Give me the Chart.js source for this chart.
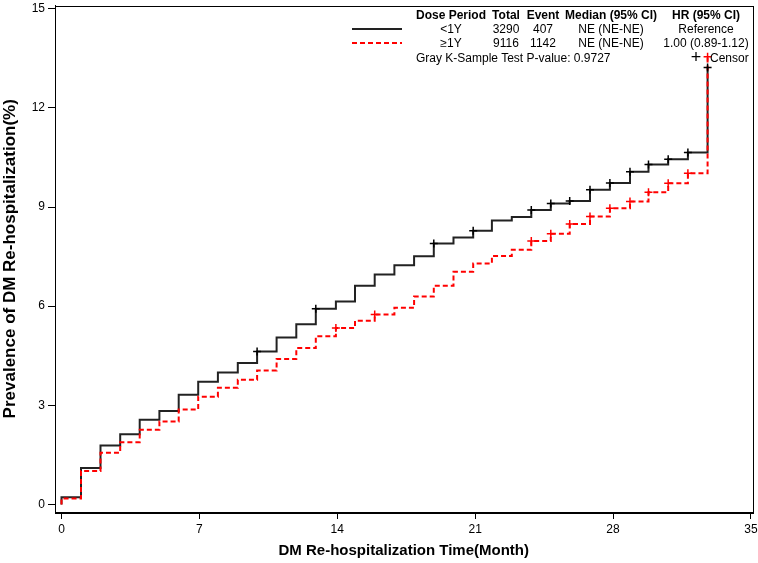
<!DOCTYPE html>
<html><head><meta charset="utf-8">
<script src="https://cdn.jsdelivr.net/npm/chart.js@4/dist/chart.umd.min.js"></script>
<style>
html,body{margin:0;padding:0;background:#fff;}
#wrap{position:relative;width:758px;height:563px;font-family:'Liberation Sans',Arial,sans-serif;color:#000;}
#c{position:absolute;left:0;top:0;}
.t{position:absolute;font-size:12px;line-height:14px;white-space:nowrap;transform:translate(-50%,-50%);}
.b{font-weight:bold;}
.l{transform:translate(0,-50%);}
.plus{font-size:18px;line-height:18px;}
.sw{position:absolute;width:50px;height:2px;}
</style></head><body>
<div id="wrap"><canvas id="c" width="758" height="563"></canvas></div>
<script>
// ---- data ----
const stepTimes = [0, 0, 0.99, 1.98, 2.98, 3.97, 4.97, 5.95, 6.94, 7.94, 8.95, 9.93, 10.92, 11.92, 12.91, 13.93, 14.9, 15.9, 16.9, 17.9, 18.9, 19.9, 20.9, 21.85, 22.86, 23.85, 24.84, 25.8, 26.83, 27.84, 28.86, 29.8, 30.8, 31.8, 32.8];
const lessThan1Y = [0, 0.22, 1.10, 1.78, 2.12, 2.56, 2.83, 3.32, 3.71, 3.99, 4.28, 4.63, 5.05, 5.45, 5.92, 6.14, 6.62, 6.96, 7.24, 7.51, 7.90, 8.08, 8.28, 8.59, 8.70, 8.91, 9.11, 9.18, 9.52, 9.73, 10.07, 10.29, 10.45, 10.65, 13.22];
const atLeast1Y = [0, 0.18, 1.01, 1.56, 1.88, 2.26, 2.51, 2.87, 3.26, 3.53, 3.77, 4.05, 4.40, 4.73, 5.09, 5.34, 5.56, 5.75, 5.95, 6.29, 6.62, 7.04, 7.29, 7.52, 7.71, 7.97, 8.19, 8.49, 8.71, 8.96, 9.17, 9.45, 9.72, 10.02, 13.55];
const censorTimesLess = [9.93, 12.91, 18.9, 20.9, 23.85, 24.84, 25.8, 26.83, 27.84, 28.86, 29.8, 30.8, 31.8, 32.8];
const censorValuesLess = [4.63, 5.92, 7.90, 8.28, 8.91, 9.11, 9.18, 9.52, 9.73, 10.07, 10.29, 10.45, 10.65, 13.22];
const censorTimesAtLeast = [13.93, 15.9, 23.85, 24.84, 25.8, 26.83, 27.84, 28.86, 29.8, 30.8, 31.8, 32.8];
const censorValuesAtLeast = [5.34, 5.75, 7.97, 8.19, 8.49, 8.71, 8.96, 9.17, 9.45, 9.72, 10.02, 13.55];
const xTicks = [0, 7, 14, 21, 28, 35];
const yTicks = [0, 3, 6, 9, 12, 15];
const headers = ['Dose Period', 'Total', 'Event', 'Median (95% CI)', 'HR (95% CI)'];
const groups = ['<1Y', '\u22651Y'];
const totals = [3290, 9116];
const events = [407, 1142];
const medians = ['NE (NE-NE)', 'NE (NE-NE)'];
const hazardRatios = ['Reference', '1.00 (0.89-1.12)'];
const testText = 'Gray K-Sample Test P-value: 0.9727';
const censorLabel = 'Censor';
const xTitle = 'DM Re-hospitalization Time(Month)';
const yTitle = 'Prevalence of DM Re-hospitalization(%)';

// ---- chart ----
const FONT = "'Liberation Sans', Arial, sans-serif";
const toPts = (xs, ys) => xs.map((x, i) => ({x: x, y: ys[i]}));
const frame = {
  id: 'frame',
  afterDraw(chart) {
    const {ctx, chartArea: a} = chart;
    ctx.save(); ctx.strokeStyle = '#000'; ctx.lineWidth = 1;
    ctx.strokeRect(Math.round(a.left) + 0.5, Math.round(a.top) + 0.5, Math.round(a.right - a.left), Math.round(a.bottom - a.top));
    // y axis title, centred on the plot area
    ctx.fillStyle = '#000';
    ctx.font = "bold 17px " + FONT;
    ctx.textAlign = 'center'; ctx.textBaseline = 'alphabetic';
    ctx.translate(14.5, (a.top + a.bottom) / 2); ctx.rotate(-Math.PI / 2);
    ctx.fillText(yTitle, 0, 0);
    ctx.restore();
  }
};
new Chart(document.getElementById('c'), {
  type: 'line',
  data: {
    datasets: [
      {data: toPts(censorTimesLess, censorValuesLess), showLine: false, pointStyle: 'cross', pointRadius: 4, borderColor: '#000', borderWidth: 1.5, order: -2},
      {data: toPts(censorTimesAtLeast, censorValuesAtLeast), showLine: false, pointStyle: 'cross', pointRadius: 4, borderColor: '#ff0000', borderWidth: 1.5, order: -1},
      {data: toPts(stepTimes, atLeast1Y), stepped: true, borderColor: '#ff0000', borderWidth: 2, borderDash: [5, 3], pointRadius: 0, fill: false, order: 0},
      {data: toPts(stepTimes, lessThan1Y), stepped: true, borderColor: '#222', borderWidth: 2, pointRadius: 0, fill: false, order: 1}
    ]
  },
  options: {
    responsive: false, animation: false,
    layout: {padding: {left: 0, top: 2, right: 4, bottom: 0}},
    plugins: {legend: {display: false}, tooltip: {enabled: false}},
    scales: {
      x: {
        type: 'linear', min: -0.33, max: 35.08,
        afterBuildTicks: s => { s.ticks = xTicks.map(v => ({value: v})); },
        afterFit: s => { s.height = 51; s.paddingLeft = 0; s.paddingRight = 0; },
        grid: {display: true, drawOnChartArea: false, drawTicks: true, tickLength: 7, tickColor: '#000'},
        border: {display: true, color: '#000', width: 1},
        ticks: {color: '#000', font: {family: FONT, size: 12}, padding: 3, maxRotation: 0},
        title: {display: true, text: xTitle, color: '#000', font: {family: FONT, size: 15, weight: 'bold'}, padding: {top: 0, bottom: 3}}
      },
      y: {
        min: -0.23, max: 15.1,
        afterBuildTicks: s => { s.ticks = yTicks.map(v => ({value: v})); },
        afterFit: s => { s.width = 55; s.paddingTop = 0; s.paddingBottom = 0; },
        grid: {display: true, drawOnChartArea: false, drawTicks: true, tickLength: 7, tickColor: '#000'},
        border: {display: true, color: '#000', width: 1},
        ticks: {color: '#000', font: {family: FONT, size: 12}, padding: 3},
        title: {display: false}
      }
    }
  },
  plugins: [frame]
});

// ---- legend table (real text) ----
const wrap = document.getElementById('wrap');
const colX = [451, 506, 543, 611, 706];
const rowY = [15, 28.5, 43, 57.5];
function addText(txt, x, y, cls) {
  const d = document.createElement('div');
  d.className = 't ' + (cls || '');
  d.style.left = x + 'px'; d.style.top = y + 'px';
  d.textContent = txt; wrap.appendChild(d);
}
headers.forEach((h, i) => addText(h, colX[i], rowY[0], 'b'));
groups.forEach((g, r) => {
  const y = rowY[r + 1];
  addText(g, colX[0], y); addText(String(totals[r]), colX[1], y); addText(String(events[r]), colX[2], y);
  addText(medians[r], colX[3], y); addText(hazardRatios[r], colX[4], y);
  const sw = document.createElement('div');
  sw.className = 'sw'; sw.style.left = '352px'; sw.style.top = (y - 1) + 'px';
  sw.style.background = r === 0 ? '#222' : 'repeating-linear-gradient(to right, #ff0000 0 5px, transparent 5px 8px)';
  wrap.appendChild(sw);
});
addText(testText, 416, rowY[3], 'l');
addText('+', 696, rowY[3] - 1, 'plus');
addText(censorLabel, 710, rowY[3], 'l');
</script>
</body></html>
